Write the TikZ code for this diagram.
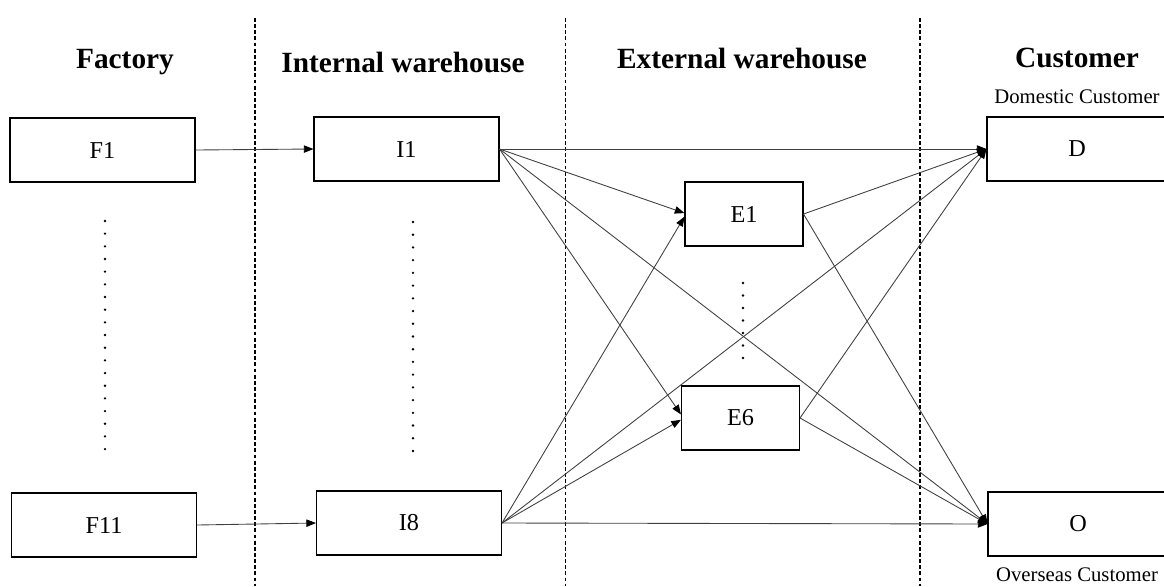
\documentclass[tikz,border=0pt]{standalone}
\usepackage{fontspec}
\setmainfont{Liberation Serif}
\usetikzlibrary{arrows,arrows.meta}
\usetikzlibrary{calc,positioning}
\begin{document}
\begin{tikzpicture}[x=0.02cm, y=-0.02cm]
	\tikzstyle{head}=[font=\fontsize{16.7}{20}\selectfont\bfseries, inner sep=0]
	\tikzstyle{sub}=[font=\fontsize{11.8}{14}\selectfont, inner sep=0]
	\tikzstyle{site}=[draw, line width=0.6pt, rectangle, minimum width=3.7cm, minimum height=1.28cm, font=\fontsize{13.8}{16}\selectfont]
	\tikzstyle{ext}=[site, minimum width=2.36cm]
	\tikzstyle{cust}=[site, minimum width=3.6cm]
	\tikzstyle{flow}=[black!75, line width=0.5pt, -{Triangle[length=5.5pt,width=4.2pt,fill=black,color=black]}]
	\tikzstyle{border}=[line width=0.6pt, dash pattern=on 2.2pt off 1.3pt]
	\useasboundingbox (0,0) rectangle (1164,586);
	% stage borders
	\foreach \x in {255,565.5,920}
		\draw[border] (\x,18) -- (\x,586);
	% stage titles
	\node[head] (hfac) at (125,62) {Factory};
	\node[head] (hint) at (403,62) {Internal warehouse};
	\node[head] (hext) at (742,58) {External warehouse};
	\node[head] (hcus) at (1077,58) {Customer};
	% sites
	\node[site] (F1) at (102.5,150) {F1};
	\node[site] (F11) at (104,525) {F11};
	\node[site] (I1) at (406.5,149) {I1};
	\node[site] (I8) at (409,523) {I8};
	\node[ext] (E1) at (744,214) {E1};
	\node[ext] (E6) at (740.5,418) {E6};
	\node[cust] (D) at (1077,149) {D};
	\node[cust] (O) at (1078,524) {O};
	\node[sub] (dom) at (1077,97) {Domestic Customer};
	\node[sub] (ovs) at (1077,575) {Overseas Customer};
	% omitted sites
	\foreach \i in {0,...,18} {
		\fill (105,221+\i*12.67) circle (1.3);
		\fill (413,222+\i*12.72) circle (1.3);
	}
	\foreach \i in {0,...,6}
		\fill (743,283+\i*12.5) circle (1.3);
	% flows
	\draw[flow] (F1.east) -- (I1.west);
	\draw[flow] (F11.east) -- (I8.west);
	\draw[flow] (I1.east) -- (D.west);
	\draw[flow] (I1.east) -- ([yshift=0.5pt]E1.west);
	\draw[flow] (I1.east) -- ([yshift=2pt]E6.west);
	\draw[flow] (I1.east) -- (O.west);
	\draw[flow] (I8.east) -- ([yshift=-1.5pt]E1.west);
	\draw[flow] (I8.east) -- ([yshift=-1pt]E6.west);
	\draw[flow] (I8.east) -- (D.west);
	\draw[flow] (I8.east) -- (O.west);
	\draw[flow] (E1.east) -- (D.west);
	\draw[flow] (E1.east) -- (O.west);
	\draw[flow] (E6.east) -- (D.west);
	\draw[flow] (E6.east) -- (O.west);
\end{tikzpicture}
\end{document}
